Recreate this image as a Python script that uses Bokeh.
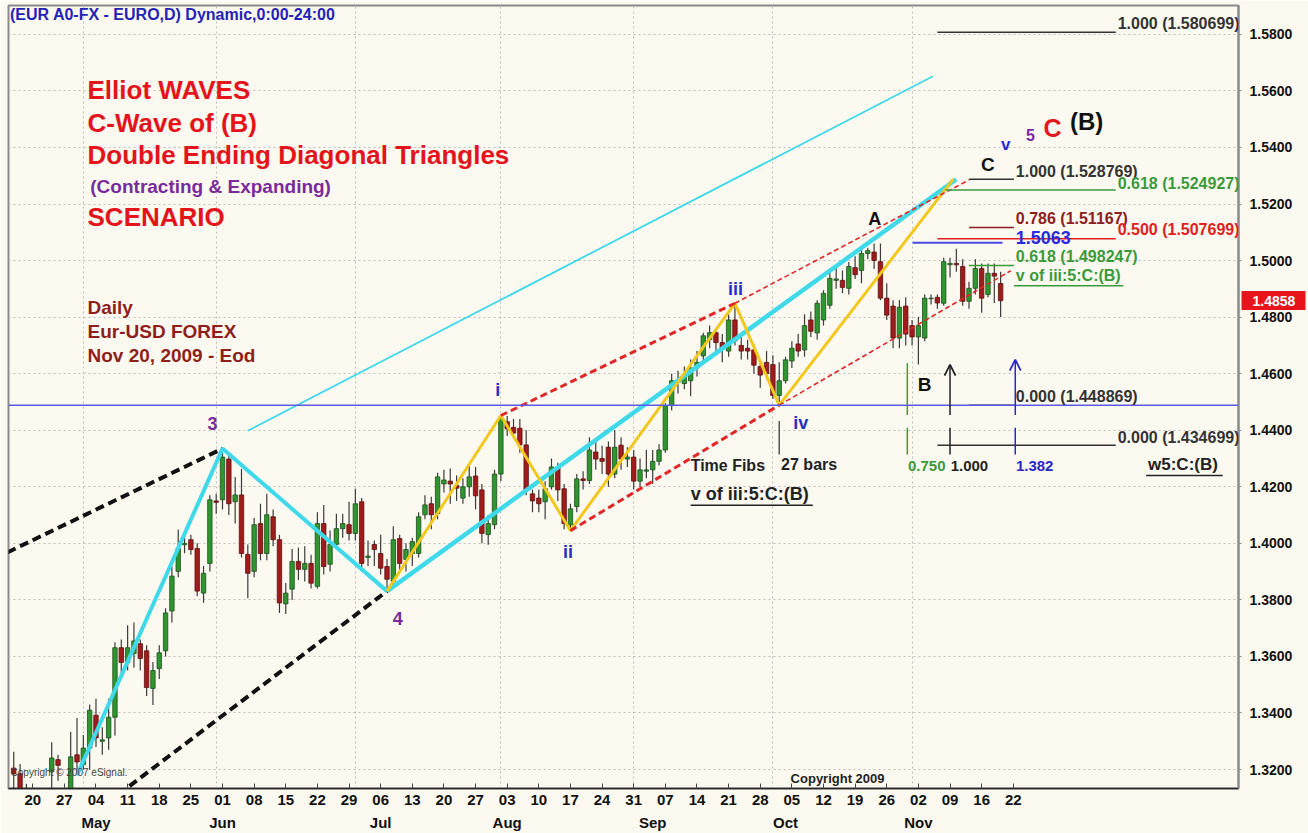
from bokeh.plotting import figure
from bokeh.models import (Range1d, FixedTicker, PrintfTickFormatter, LinearAxis, Label,
                          Arrow, OpenHead, Span, ColumnDataSource)
from bokeh.embed import file_html
from bokeh.resources import INLINE

FONT = "Liberation Sans"
BG = "#FCFAF0"

# ---------------- data: daily EUR/USD candles (bar index 0 = Mon 20 Apr 2009) ----------------
bar_idx = list(range(-3, 154))
opens = [
    1.3205, 1.3185, 1.3100,
    1.3020, 1.2920, 1.2940, 1.3192, 1.3235,
    1.3120, 1.3030, 1.3252, 1.3217, 1.3276,
    1.3392, 1.3300, 1.3312, 1.3385, 1.3631,
    1.3579, 1.3610, 1.3645, 1.3620, 1.3487,
    1.3557, 1.3620, 1.3761, 1.3901, 1.3995,
    1.4013, 1.3982, 1.3824, 1.3929, 1.4150,
    1.4154, 1.4298, 1.4147, 1.4171, 1.3961,
    1.3901, 1.4070, 1.3964, 1.4094, 1.4013,
    1.3786, 1.3838, 1.3936, 1.3908, 1.3929,
    1.3848, 1.4070, 1.3926, 1.3996, 1.4052,
    1.4066, 1.4035, 1.4147, 1.3950, 1.3996,
    1.3964, 1.3918, 1.3866, 1.4017, 1.3943,
    1.3964, 1.3964, 1.4101, 1.4140, 1.4105,
    1.4210, 1.4220, 1.4205, 1.4160, 1.4200,
    1.4238, 1.4189, 1.4031, 1.4066, 1.4245,
    1.4430, 1.4410, 1.4407, 1.4348, 1.4175,
    1.4160, 1.4147, 1.4200, 1.4270, 1.4193,
    1.4065, 1.4130, 1.4228, 1.4222, 1.4323,
    1.4300, 1.4340, 1.4245, 1.4347, 1.4298,
    1.4305, 1.4220, 1.4255, 1.4260, 1.4290,
    1.4330, 1.4487, 1.4570, 1.4565, 1.4575,
    1.4620, 1.4663, 1.4720, 1.4745, 1.4710,
    1.4680, 1.4790, 1.4700, 1.4690, 1.4684,
    1.4625, 1.4640, 1.4632, 1.4523, 1.4575,
    1.4645, 1.4705, 1.4684, 1.4790, 1.4744,
    1.4790, 1.4842, 1.4930, 1.4930, 1.4902,
    1.4975, 1.4965, 1.5025, 1.5030, 1.4996,
    1.4867, 1.4839, 1.4726, 1.4839, 1.4770,
    1.4730, 1.4726, 1.4865, 1.4870, 1.4849,
    1.4985, 1.4990, 1.4979, 1.4856, 1.4902,
    1.4972, 1.4880, 1.4955, 1.4919]
highs = [
    1.3263, 1.3220, 1.3150,
    1.3050, 1.2980, 1.3120, 1.3297, 1.3252,
    1.3130, 1.3333, 1.3382, 1.3322, 1.3430,
    1.3450, 1.3350, 1.3450, 1.3650, 1.3660,
    1.3710, 1.3720, 1.3660, 1.3640, 1.3580,
    1.3640, 1.3770, 1.3918, 1.4049, 1.4045,
    1.4030, 1.4000, 1.3920, 1.4170, 1.4175,
    1.4335, 1.4320, 1.4235, 1.4263, 1.3996,
    1.4090, 1.4140, 1.4175, 1.4120, 1.4030,
    1.3860, 1.3980, 1.3985, 1.3990, 1.3960,
    1.4110, 1.4136, 1.4045, 1.4105, 1.4105,
    1.4147, 1.4193, 1.4160, 1.4010, 1.4010,
    1.4030, 1.3945, 1.4060, 1.4030, 1.4000,
    1.4020, 1.4110, 1.4170, 1.4165, 1.4250,
    1.4260, 1.4265, 1.4240, 1.4230, 1.4275,
    1.4270, 1.4210, 1.4100, 1.4260, 1.4452,
    1.4450, 1.4440, 1.4440, 1.4400, 1.4190,
    1.4190, 1.4220, 1.4300, 1.4285, 1.4210,
    1.4140, 1.4245, 1.4255, 1.4375, 1.4360,
    1.4345, 1.4360, 1.4400, 1.4375, 1.4340,
    1.4330, 1.4300, 1.4330, 1.4330, 1.4350,
    1.4495, 1.4600, 1.4610, 1.4625, 1.4650,
    1.4680, 1.4745, 1.4770, 1.4760, 1.4740,
    1.4810, 1.4849, 1.4740, 1.4720, 1.4700,
    1.4650, 1.4680, 1.4665, 1.4640, 1.4660,
    1.4715, 1.4740, 1.4810, 1.4820, 1.4860,
    1.4895, 1.4960, 1.4975, 1.4965, 1.4995,
    1.5015, 1.5040, 1.5045, 1.5060, 1.5060,
    1.4920, 1.4860, 1.4860, 1.4870, 1.4790,
    1.4800, 1.4880, 1.4880, 1.4880, 1.5010,
    1.5010, 1.5042, 1.5005, 1.4925, 1.5005,
    1.4990, 1.4990, 1.4990, 1.4960]
lows = [
    1.3120, 1.3050, 1.2980,
    1.2890, 1.2850, 1.2900, 1.3100, 1.3160,
    1.2990, 1.3000, 1.3192, 1.3200, 1.3200,
    1.3280, 1.3252, 1.3270, 1.3320, 1.3520,
    1.3550, 1.3560, 1.3550, 1.3460, 1.3428,
    1.3520, 1.3600, 1.3720, 1.3880, 1.3965,
    1.3960, 1.3813, 1.3790, 1.3900, 1.4105,
    1.4120, 1.4100, 1.4070, 1.3950, 1.3806,
    1.3880, 1.3940, 1.3940, 1.3990, 1.3754,
    1.3750, 1.3800, 1.3870, 1.3865, 1.3840,
    1.3840, 1.3890, 1.3900, 1.3980, 1.4020,
    1.4010, 1.4010, 1.3900, 1.3920, 1.3920,
    1.3890, 1.3831, 1.3850, 1.3900, 1.3900,
    1.3920, 1.3950, 1.4085, 1.4050, 1.4085,
    1.4180, 1.4140, 1.4150, 1.4140, 1.4165,
    1.4120, 1.4000, 1.3995, 1.4050, 1.4220,
    1.4380, 1.4375, 1.4320, 1.4170, 1.4110,
    1.4110, 1.4085, 1.4190, 1.4150, 1.4050,
    1.4045, 1.4110, 1.4190, 1.4210, 1.4260,
    1.4245, 1.4200, 1.4230, 1.4260, 1.4270,
    1.4190, 1.4200, 1.4230, 1.4210, 1.4275,
    1.4320, 1.4470, 1.4530, 1.4545, 1.4520,
    1.4590, 1.4640, 1.4690, 1.4680, 1.4640,
    1.4660, 1.4700, 1.4650, 1.4650, 1.4600,
    1.4550, 1.4580, 1.4510, 1.4489, 1.4565,
    1.4620, 1.4660, 1.4660, 1.4730, 1.4720,
    1.4770, 1.4830, 1.4900, 1.4885, 1.4880,
    1.4935, 1.4920, 1.5005, 1.4970, 1.4860,
    1.4790, 1.4690, 1.4690, 1.4700, 1.4700,
    1.4632, 1.4715, 1.4845, 1.4830, 1.4840,
    1.4940, 1.4960, 1.4840, 1.4830, 1.4880,
    1.4815, 1.4870, 1.4850, 1.4800]
closes = [
    1.3185, 1.3100, 1.3020,
    1.2920, 1.2940, 1.3100, 1.3241, 1.3215,
    1.3020, 1.3245, 1.3227, 1.3276, 1.3410,
    1.3312, 1.3305, 1.3385, 1.3631, 1.3579,
    1.3631, 1.3655, 1.3593, 1.3490, 1.3550,
    1.3613, 1.3754, 1.3884, 1.3982, 1.4000,
    1.3978, 1.3831, 1.3894, 1.4154, 1.4145,
    1.4305, 1.4140, 1.4171, 1.3964, 1.3894,
    1.4066, 1.3964, 1.4101, 1.4013, 1.3789,
    1.3824, 1.3936, 1.3908, 1.3929, 1.3859,
    1.4070, 1.3918, 1.3996, 1.4052, 1.4070,
    1.4035, 1.4140, 1.3929, 1.3955, 1.3978,
    1.3912, 1.3873, 1.4013, 1.3929, 1.3978,
    1.4006, 1.4094, 1.4136, 1.4101, 1.4235,
    1.4224, 1.4210, 1.4195, 1.4200, 1.4235,
    1.4168, 1.4035, 1.4070, 1.4245, 1.4445,
    1.4405, 1.4390, 1.4348, 1.4189, 1.4150,
    1.4140, 1.4193, 1.4270, 1.4189, 1.4070,
    1.4122, 1.4228, 1.4222, 1.4330, 1.4298,
    1.4290, 1.4245, 1.4340, 1.4298, 1.4305,
    1.4220, 1.4260, 1.4260, 1.4290, 1.4330,
    1.4487, 1.4575, 1.4575, 1.4590, 1.4620,
    1.4640, 1.4734, 1.4745, 1.4710, 1.4690,
    1.4790, 1.4716, 1.4680, 1.4680, 1.4630,
    1.4595, 1.4600, 1.4523, 1.4575, 1.4649,
    1.4690, 1.4680, 1.4770, 1.4750, 1.4849,
    1.4884, 1.4937, 1.4935, 1.4905, 1.4979,
    1.4950, 1.5025, 1.5035, 1.5000, 1.4867,
    1.4807, 1.4726, 1.4835, 1.4740, 1.4730,
    1.4770, 1.4867, 1.4867, 1.4850, 1.4996,
    1.4990, 1.4985, 1.4856, 1.4902, 1.4972,
    1.4867, 1.4955, 1.4945, 1.4858]
last_price = 1.4858

# axis ticks
price_ticks = [1.32, 1.34, 1.36, 1.38, 1.40, 1.42, 1.44, 1.46, 1.48, 1.50, 1.52, 1.54, 1.56, 1.58]
day_tick_idx = list(range(0, 160, 5))
day_tick_labels = ["20", "27", "04", "11", "18", "25", "01", "08", "15", "22", "29", "06", "13", "20",
                   "27", "03", "10", "17", "24", "31", "07", "14", "21", "28", "05", "12", "19", "26",
                   "02", "09", "16", "22"]
month_idx = [10, 30, 55, 75, 98, 119, 140]
month_labels = ["May", "Jun", "Jul", "Aug", "Sep", "Oct", "Nov"]
month_grid_idx = [8, 29, 51, 74, 95, 117, 139]

# Elliott wave pivots (bar index, price)
w3 = (30, 1.4335)
w4 = (56, 1.3831)
wi = (74, 1.4452)
wii = (85, 1.4045)
wiii = (111, 1.4849)
wiv = (118, 1.448869)
c_end = (146, 1.528769)
yellow_x = [56, 74, 85, 111, 118, 145.5]
yellow_p = [1.3831, 1.4452, 1.4045, 1.4849, 1.448869, 1.5288]

# Fibonacci price levels
fib_p = [1.580699, 1.528769, 1.524927, 1.51167, 1.507699, 1.5063, 1.498247, 1.448869, 1.434699]
fib_x0 = [143, 148, 144.3, 148, 143, 139.1, 148, 148, 143]
fib_x1 = [171.2, 155.1, 171.2, 155.1, 171.2, 153.3, 155.1, 155.1, 171.2]
fib_col = ["#333333", "#333333", "#3a9a3a", "#8b2020", "#e02020", "#4a4ae8", "#3a9a3a", "#333333", "#333333"]
fib_txt = ["1.000 (1.580699)", "1.000 (1.528769)", "0.618 (1.524927)", "0.786 (1.51167)",
           "0.500 (1.507699)", "1.5063", "0.618 (1.498247)", "0.000 (1.448869)", "0.000 (1.434699)"]

# time fibs from wave iv
tf_base = 118
tf_bars = 27
tf_ratios = [0.750, 1.000, 1.382]
tf_cols = ["#3a9a3a", "#222222", "#2828c8"]

# ---------------- figure ----------------
p = figure(width=1308, height=833, x_range=Range1d(-3.83, 190.6), y_range=Range1d(1.3133, 1.5902),
           y_axis_location="right", output_backend="svg", toolbar_location=None, title=None,
           min_border_left=8, min_border_right=70, min_border_top=5, min_border_bottom=40,
           background_fill_color=BG, border_fill_color=BG)
p.outline_line_color = "#8a8a8a"
p.outline_line_width = 2

yax = p.yaxis[0]
yax.ticker = FixedTicker(ticks=price_ticks)
yax.formatter = PrintfTickFormatter(format="%.4f")
yax.major_label_text_font = FONT
yax.major_label_text_font_size = "14px"
yax.major_label_text_font_style = "bold"
yax.major_label_text_color = "#111111"
yax.axis_line_color = "#8a8a8a"
yax.axis_line_width = 2
yax.major_tick_in = 0
yax.major_tick_out = 3
yax.major_tick_line_color = "#8a8a8a"
yax.minor_tick_line_color = None
yax.major_label_standoff = 8

# last-price tag: an extra right axis with one tick drawn as a red block
tag_axis = LinearAxis(ticker=FixedTicker(ticks=[last_price]),
                      formatter=PrintfTickFormatter(format="%.4f"),
                      axis_line_color=None, minor_tick_line_color=None,
                      major_tick_in=54, major_tick_out=10, major_tick_line_color="#e8141b",
                      major_tick_line_width=19, major_label_standoff=-53,
                      major_label_text_color="white", major_label_text_font=FONT,
                      major_label_text_font_size="14px", major_label_text_font_style="bold")
p.add_layout(tag_axis, "right")

xax = p.xaxis[0]
xax.ticker = FixedTicker(ticks=day_tick_idx)
xax.major_label_overrides = {t: s for t, s in zip(day_tick_idx, day_tick_labels)}
xax.major_label_text_font = FONT
xax.major_label_text_font_size = "15px"
xax.major_label_text_font_style = "bold"
xax.major_label_text_color = "#111111"
xax.axis_line_color = "#222222"
xax.axis_line_width = 1.5
xax.major_tick_in = 5
xax.major_tick_out = 0
xax.major_tick_line_color = "#444444"
xax.minor_tick_line_color = None
xax.major_label_standoff = 6

max_ = LinearAxis(ticker=FixedTicker(ticks=month_idx),
                  major_label_overrides={t: s for t, s in zip(month_idx, month_labels)},
                  axis_line_color=None, major_tick_line_color=None, minor_tick_line_color=None,
                  major_label_standoff=0, major_label_text_font=FONT,
                  major_label_text_font_size="15px", major_label_text_font_style="bold",
                  major_label_text_color="#111111")
p.add_layout(max_, "below")

p.xgrid.ticker = FixedTicker(ticks=month_grid_idx)
p.xgrid.grid_line_color = "#bcbcbc"
p.xgrid.grid_line_dash = "2 3"
p.ygrid.grid_line_color = "#bcbcbc"
p.ygrid.grid_line_dash = "2 3"

# ---------------- candles ----------------
tops = [max(o, c) for o, c in zip(opens, closes)]
bots = [min(o, c) for o, c in zip(opens, closes)]
fills = ["#2f962f" if c >= o else "#a01c1c" for o, c in zip(opens, closes)]
edges = ["#1d4f1d" if c >= o else "#5a1010" for o, c in zip(opens, closes)]
src = ColumnDataSource(dict(x=bar_idx, h=highs, l=lows, top=tops, bot=bots, fill=fills, edge=edges))
p.segment(x0="x", y0="h", x1="x", y1="l", source=src, line_color="#3a3a3a", line_width=1.2)
p.vbar(x="x", width=0.7, top="top", bottom="bot", source=src, fill_color="fill", line_color="edge",
       line_width=0.8)

# ---------------- trendlines ----------------
CYAN = "#3fd9ea"
p.add_layout(Span(location=wiv[1], dimension="width", line_color="#5a5ae6", line_width=1.5))

# black dashed outer channel
p.line([-4, w3[0]], [1.3968, w3[1]], line_color="#111111", line_width=4, line_dash="9 5")
p.line([10, w4[0]], [1.3052, w4[1]], line_color="#111111", line_width=4, line_dash="9 5")

# thin cyan
p.line([34, 142.3], [1.4398, 1.5652], line_color=CYAN, line_width=1.8)

# thick cyan wave path
p.line([7, w3[0], w4[0]], [1.3180, w3[1], w4[1]], line_color=CYAN, line_width=4)
p.line([w4[0], c_end[0]], [w4[1], c_end[1]], line_color=CYAN, line_width=4.5)

# yellow zigzag
p.line(yellow_x, yellow_p, line_color="#f2c81e", line_width=3)

# red dashed inner channel
RED = "#e02626"
p.line([wi[0], wiii[0]], [wi[1], wiii[1]], line_color=RED, line_width=3, line_dash="7 4")
p.line([wiii[0], 148], [wiii[1], 1.5285], line_color=RED, line_width=1.6, line_dash="5 3")
p.line([wii[0], wiv[0]], [wii[1], wiv[1]], line_color=RED, line_width=3, line_dash="7 4")
p.line([wiv[0], 154.6], [wiv[1], 1.4964], line_color=RED, line_width=1.6, line_dash="5 3")

# fib horizontal levels
for y, x0, x1, col in zip(fib_p, fib_x0, fib_x1, fib_col):
    p.line([x0, x1], [y, y], line_color=col, line_width=2 if col == "#4a4ae8" else 1.5)


def lab(x, y, text, color, size, align="left", style="bold"):
    p.add_layout(Label(x=x, y=y, text=text, text_color=color, text_font=FONT,
                       text_font_size=f"{size}px", text_font_style=style,
                       text_align=align, text_baseline="middle"))


# fib texts
fib_tx = [171.5, 155.4, 171.5, 155.4, 171.5, 155.4, 155.4, 155.4, 171.5]
fib_ty = [1.5839, 1.5315, 1.5273, 1.5150, 1.5111, 1.5080, 1.5013, 1.4521, 1.4373]
for x, y, t, col in zip(fib_tx, fib_ty, fib_txt, fib_col):
    if t == "1.5063":
        lab(x, y, t, "#2a2ae0", 18)
    else:
        lab(x, y, t, col, 16)

lab(155.4, 1.4946, "v of iii:5:C:(B)", "#3a9a3a", 16)
p.segment(x0=[155.1], y0=[1.4911], x1=[172.4], y1=[1.4911], line_color="#3a9a3a", line_width=1.5)
lab(176.3, 1.4279, "w5:C:(B)", "#222222", 17)
p.segment(x0=[176.0], y0=[1.4240], x1=[188.1], y1=[1.4240], line_color="#222222", line_width=1.5)

# time fib verticals
for r, col in zip(tf_ratios, tf_cols):
    x = tf_base + tf_bars * r
    p.segment(x0=[x], y0=[1.4409], x1=[x], y1=[1.4314], line_color=col, line_width=1.5)
    if r == 0.75:
        p.segment(x0=[x], y0=[1.4454], x1=[x], y1=[1.4637], line_color=col, line_width=1.5)
    else:
        top_y = 1.4632 if r == 1.0 else 1.4650
        p.add_layout(Arrow(end=OpenHead(size=11, line_color=col, line_width=1.8),
                           x_start=x, y_start=1.4454, x_end=x, y_end=top_y,
                           line_color=col, line_width=1.5))
    lab(x + 0.1, 1.4275, f"{r:.3f}", col, 15)

p.segment(x0=[tf_base], y0=[1.4433], x1=[tf_base], y1=[1.4314], line_color="#555555", line_width=1.5)
lab(104.0, 1.4275, "Time Fibs", "#222222", 16)
lab(118.3, 1.4279, f"{tf_bars} bars", "#222222", 16)
lab(104.0, 1.4173, "v of iii:5:C:(B)", "#222222", 18)
p.segment(x0=[104.0], y0=[1.4135], x1=[123.3], y1=[1.4135], line_color="#222222", line_width=1.5)

# wave labels
PURPLE = "#7a2a9c"
BLUE = "#2431c4"
lab(28.4, 1.4423, "3", PURPLE, 18, "center")
lab(57.7, 1.3734, "4", PURPLE, 18, "center")
lab(73.5, 1.4542, "i", BLUE, 18, "center")
lab(84.6, 1.3969, "ii", BLUE, 18, "center")
lab(111.1, 1.4900, "iii", BLUE, 18, "center")
lab(121.4, 1.4426, "iv", BLUE, 18, "center")
lab(133.1, 1.5146, "A", "#111111", 18, "center")
lab(141.0, 1.4560, "B", "#111111", 19, "center")
lab(151.0, 1.5340, "C", "#111111", 19, "center")
lab(153.8, 1.5410, "v", "#2a2ad8", 17, "center")
lab(157.7, 1.5445, "5", PURPLE, 16, "center")
lab(161.2, 1.5470, "C", "#e01b1b", 25, "center")
lab(166.6, 1.5491, "(B)", "#111111", 24, "center")

# left text block
RED_T = "#e3141b"
lab(8.66, 1.5603, "Elliot WAVES", RED_T, 26)
lab(8.66, 1.5487, "C-Wave of (B)", RED_T, 26)
lab(8.66, 1.5375, "Double Ending Diagonal Triangles", RED_T, 26)
lab(9.1, 1.5262, "(Contracting & Expanding)", PURPLE, 19)
lab(8.66, 1.5153, "SCENARIO", RED_T, 26)
MAROON = "#8e1f1a"
lab(8.66, 1.4834, "Daily", MAROON, 19)
lab(8.66, 1.4749, "Eur-USD FOREX", MAROON, 19)
lab(8.66, 1.4665, "Nov 20, 2009 - Eod", MAROON, 19)

# header / copyright
lab(-3.6, 1.5870, "(EUR A0-FX - EURO,D) Dynamic,0:00-24:00", "#2323b8", 16)
lab(119.8, 1.3168, "Copyright 2009", "#222222", 13)
lab(-3.5, 1.3189, "Copyright \u00a9 2007 eSignal.", "#444444", 10, style="normal")

open("out.html", "w").write(file_html(p, INLINE))
